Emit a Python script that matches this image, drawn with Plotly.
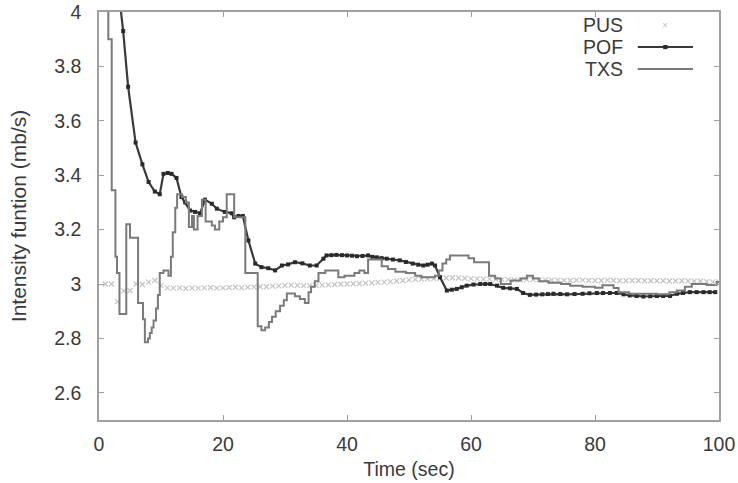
import plotly.graph_objects as go

# ---------------- data ----------------
PUS_T = list(range(1, 101))
PUS_Y = [3.0, 3.0, 2.935, 2.975, 2.976, 3.0, 2.998, 3.007, 3.013, 2.994,
         2.986, 2.985, 2.986, 2.984, 2.986, 2.985, 2.986, 2.987, 2.985, 2.986,
         2.987, 2.988, 2.986, 2.988, 2.989, 2.990, 2.990, 2.992, 2.993, 2.995,
         2.996, 2.995, 2.994, 2.994, 2.995, 2.996, 2.997, 2.998, 2.999, 3.000,
         3.001, 3.002, 3.003, 3.004, 3.006, 3.007, 3.009, 3.011, 3.013, 3.015,
         3.017, 3.018, 3.019, 3.020, 3.021, 3.022, 3.023, 3.022, 3.021, 3.020,
         3.019, 3.018, 3.018, 3.017, 3.016, 3.016, 3.015, 3.015, 3.016, 3.016,
         3.015, 3.015, 3.014, 3.014, 3.013, 3.013, 3.014, 3.014, 3.013, 3.013,
         3.013, 3.014, 3.013, 3.012, 3.012, 3.013, 3.013, 3.012, 3.012, 3.012,
         3.012, 3.011, 3.011, 3.012, 3.011, 3.010, 3.010, 3.009, 3.008, 3.007]

POF_T = [3.3, 3.9, 4.7, 5.9, 7.0, 8.0, 9.0, 9.8, 10.4, 11.1, 11.7, 12.5, 13.3, 13.9,
         14.7, 15.5, 16.3, 17.1, 18.2, 19.0, 20.3, 21.4, 21.8, 22.5, 23.2, 24.1,
         25.2, 26.2, 27.3, 28.4, 29.5, 30.5, 31.6, 32.8, 34.0, 35.1, 36.2, 36.7,
         37.5, 38.3, 39.2, 40.0, 40.8, 41.6, 42.5, 43.4, 44.1, 44.8, 45.6, 46.4,
         47.4, 48.5, 49.5, 50.6, 51.5, 52.3, 53.0, 53.7, 54.2, 55.0, 56.1, 56.9,
         57.7, 58.5, 59.3, 60.4, 61.5, 62.3, 63.1, 64.2, 65.2, 66.3, 67.4, 68.4,
         69.5, 70.5, 71.5, 72.4, 73.3, 74.4, 75.5, 76.7, 78.0, 79.1, 80.3, 81.3,
         82.4, 83.5, 84.6, 85.6, 86.7, 87.8, 88.9, 90.0, 91.0, 92.1, 93.2, 94.2,
         95.3, 96.4, 97.5, 98.5, 99.4]
POF_Y = [4.05, 3.93, 3.725, 3.52, 3.44, 3.375, 3.34, 3.33, 3.405, 3.408, 3.405, 3.39,
         3.32, 3.30, 3.27, 3.265, 3.26, 3.31, 3.295, 3.277, 3.265, 3.26, 3.245, 3.25,
         3.25, 3.16, 3.075, 3.062, 3.058, 3.05, 3.068, 3.072, 3.08, 3.076, 3.068,
         3.068, 3.093, 3.105, 3.106, 3.107, 3.106, 3.105, 3.104, 3.102, 3.103, 3.105,
         3.100, 3.098, 3.095, 3.093, 3.090, 3.087, 3.081, 3.075, 3.071, 3.068, 3.071,
         3.075, 3.068, 3.025, 2.976, 2.979, 2.982, 2.988, 2.994, 2.998, 3.0, 3.0, 3.0,
         2.994, 2.986, 2.984, 2.982, 2.967, 2.960, 2.961, 2.962, 2.963, 2.964, 2.963,
         2.962, 2.963, 2.964, 2.966, 2.967, 2.967, 2.967, 2.967, 2.962, 2.958, 2.956,
         2.954, 2.955, 2.956, 2.956, 2.956, 2.964, 2.967, 2.970, 2.970, 2.970, 2.970,
         2.970]

TXS_T = [1.4, 1.5, 2.05, 2.65, 2.9, 3.3, 4.4, 5.0, 6.3, 7.1, 7.4, 7.9, 8.2, 8.5,
         8.8, 9.2, 9.5, 9.8, 10.4, 11.2, 11.6, 11.9, 12.3, 12.6, 13.4, 14.0, 14.5,
         15.0, 15.3, 15.9, 16.6, 17.2, 18.2, 18.7, 19.4, 20.0, 20.6, 21.8, 23.6,
         25.6, 26.2, 26.8, 27.4, 27.9, 28.5, 29.2, 29.8, 30.3, 31.6, 32.4, 33.2,
         33.8, 34.2, 34.8, 35.4, 36.5, 37.8, 38.6, 39.6, 41.2, 42.0, 42.8, 43.4,
         45.6, 46.6, 47.8, 49.5, 51.0, 52.0, 54.2, 54.8, 55.4, 56.0, 56.6, 59.6,
         60.5, 62.9, 63.9, 64.8, 66.4, 68.0, 69.0, 70.0, 71.0, 72.5, 74.5, 76.0,
         78.0, 80.0, 81.2, 83.0, 83.8, 85.5, 90.0, 92.0, 93.2, 94.5, 95.6, 98.0,
         99.6, 100.0]
TXS_Y = [4.6, 3.90, 3.345, 3.10, 3.04, 2.89, 3.22, 3.17, 2.93, 2.87, 2.786, 2.80,
         2.82, 2.84, 2.866, 2.91, 2.96, 3.04, 3.05, 3.03, 3.10, 3.19, 3.28, 3.33,
         3.32, 3.30, 3.21, 3.25, 3.20, 3.25, 3.31, 3.23, 3.215, 3.20, 3.23, 3.245,
         3.33, 3.245, 3.04, 2.845, 2.83, 2.84, 2.86, 2.88, 2.90, 2.92, 2.94, 2.965,
         2.955, 2.945, 2.93, 2.97, 2.99, 3.01, 3.04, 3.05, 3.05, 3.025, 3.03, 3.04,
         3.05, 3.04, 3.09, 3.065, 3.055, 3.045, 3.04, 3.03, 3.025, 3.03, 3.05, 3.075,
         3.09, 3.105, 3.095, 3.08, 3.03, 3.02, 3.00, 3.013, 3.02, 3.03, 3.02, 3.01,
         3.005, 3.0, 2.994, 2.99, 2.986, 2.995, 2.985, 2.97, 2.964, 2.962, 2.97,
         2.976, 2.99, 3.0, 2.996, 3.007, 3.01]

X_TICKS = [0, 20, 40, 60, 80, 100]
Y_TICKS = [2.6, 2.8, 3.0, 3.2, 3.4, 3.6, 3.8, 4.0]
Y_TICK_TEXT = ["2.6", "2.8", "3", "3.2", "3.4", "3.6", "3.8", "4"]

FONT = "Liberation Sans, Arial, Helvetica, sans-serif"
FRAME = "#a0a0a0"
TEXT = "#3a3a3a"

fig = go.Figure()
fig.add_trace(go.Scatter(x=PUS_T, y=PUS_Y, mode="markers", name="PUS",
                         marker=dict(symbol="x-thin", size=5,
                                     line=dict(color="#c4c4c4", width=1.2))))
fig.add_trace(go.Scatter(x=POF_T, y=POF_Y, mode="lines+markers", name="POF",
                         line=dict(color="#3a3a3a", width=2.2),
                         marker=dict(symbol="square", size=4, color="#2a2a2a")))
fig.add_trace(go.Scatter(x=TXS_T, y=TXS_Y, mode="lines", name="TXS",
                         line=dict(color="#7a7a7a", width=2, shape="hv")))

axis_common = dict(showline=True, linecolor=FRAME, linewidth=1.5, mirror="ticks",
                   ticks="inside", ticklen=5, tickcolor=FRAME, tickwidth=1,
                   showgrid=False, zeroline=False,
                   tickfont=dict(family=FONT, size=19.5, color=TEXT))

fig.update_xaxes(range=[0, 100], tickvals=X_TICKS, ticklabelstandoff=6,
                 title=dict(text="Time (sec)", font=dict(family=FONT, size=19.5, color=TEXT),
                            standoff=8),
                 **axis_common)
fig.update_yaxes(range=[2.5, 4.0], tickvals=Y_TICKS, ticktext=Y_TICK_TEXT,
                 ticklabelstandoff=12,
                 title=dict(text="Intensity funtion (mb/s)",
                            font=dict(family=FONT, size=21, color=TEXT), standoff=22),
                 **axis_common)

# gnuplot-style key: label on the left, sample on the right
key_x_text = 0.848
key_x0, key_x1 = 0.869, 0.958
key_rows = [0.968, 0.914, 0.860]
for name, ky in zip(["PUS", "POF", "TXS"], key_rows):
    fig.add_annotation(x=key_x_text, y=ky, xref="paper", yref="paper", text=name,
                       showarrow=False, xanchor="right", yanchor="middle",
                       font=dict(family=FONT, size=19.5, color=TEXT))
fig.add_annotation(x=(key_x0 + key_x1) / 2, y=key_rows[0], xref="paper", yref="paper",
                   text="×", showarrow=False, xanchor="center", yanchor="middle",
                   font=dict(family=FONT, size=10, color="#c4c4c4"))
fig.add_shape(type="line", xref="paper", yref="paper", x0=key_x0, x1=key_x1,
              y0=key_rows[1], y1=key_rows[1], line=dict(color="#3a3a3a", width=2))
fig.add_shape(type="rect", xref="paper", yref="paper",
              x0=(key_x0 + key_x1) / 2 - 0.0035, x1=(key_x0 + key_x1) / 2 + 0.0035,
              y0=key_rows[1] - 0.005, y1=key_rows[1] + 0.005,
              fillcolor="#2a2a2a", line=dict(width=0))
fig.add_shape(type="line", xref="paper", yref="paper", x0=key_x0, x1=key_x1,
              y0=key_rows[2], y1=key_rows[2], line=dict(color="#7a7a7a", width=2))

fig.update_layout(width=738, height=483, showlegend=False,
                  margin=dict(l=99, r=19, t=12, b=63, autoexpand=False),
                  paper_bgcolor="white", plot_bgcolor="white",
                  font=dict(family=FONT, color=TEXT))

fig.write_html("out.html")
